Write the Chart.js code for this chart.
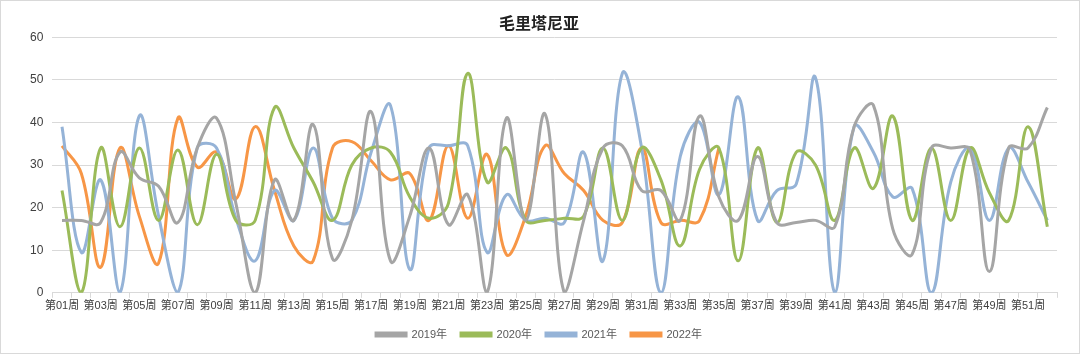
<!DOCTYPE html>
<html>
<head>
<meta charset="utf-8">
<script src="https://cdn.jsdelivr.net/npm/chart.js@4"></script>
<style>
  html, body { margin: 0; padding: 0; background: #fff; }
  #wrap { width: 1080px; height: 354px; box-sizing: border-box; border: 1px solid #d9d9d9; }
  #chart { display: block; }
</style>
</head>
<body>
<div id="wrap"><canvas id="chart" width="1078" height="352"></canvas></div>
<script>
// weeks 第01周 .. 第52周
var weeks = [];
for (var w = 1; w <= 52; w++) weeks.push('第' + (w < 10 ? '0' + w : w) + '周');

var y2019 = [17, 17, 16.5, 33, 27, 25, 16.5, 34, 41, 21, 0, 26.5, 17, 39.5, 8, 17, 42.5, 7.5, 18, 34,
             16, 23, 0, 41, 17, 42, 0, 17, 34, 34.5, 24, 24, 17, 41.5, 22.5, 17, 32, 16.5, 16.5, 17,
             15.5, 39, 44, 15, 9, 34, 34, 33.5, 5, 34, 34, 43.5];
var y2020 = [24, 0, 34, 15.5, 34, 17, 33.5, 16, 32.5, 17, 17, 43.5, 34, 26, 17, 30, 34, 33, 22.5, 17.5,
             21, 51.5, 26, 34, 17, 17, 17.5, 18, 34, 17, 34, 26.5, 11, 29, 34, 7.5, 34, 16.5, 33, 30,
             17, 34, 24.5, 41.5, 17, 34, 17, 34, 23.5, 17, 39, 15.5];
var y2021 = [39, 9.5, 26.5, 0, 41.5, 18, 0, 34, 34, 17.5, 7.5, 24, 17, 34, 17.5, 17, 33, 44, 5.5, 34,
             34.5, 34.5, 9.5, 23, 17, 17.5, 16.5, 33, 7.5, 51.5, 34, 0, 32, 40, 23, 46, 17, 24, 25.5, 50.5,
             0, 39, 33, 22.5, 24.5, 0, 26, 34, 17, 34, 26, 17];
var y2022 = [34.5, 28, 6, 34, 18, 7, 41, 29.5, 33, 22, 39, 24, 11, 7.5, 34, 35.5, 31, 26.5, 28, 17,
             34.5, 17.5, 32.5, 9, 18, 34.5, 28, 24, 17, 16.5, 34, 16.5, 17, 17, 34];

var seriesNames = ['2019年', '2020年', '2021年', '2022年'];
var seriesColors = ['#a5a5a5', '#9bbb59', '#95b3d7', '#f79646'];
var seriesData = [y2019, y2020, y2021, y2022];
var yTicks = [0, 10, 20, 30, 40, 50, 60];

var fontFam = "'Liberation Sans', 'Noto Sans CJK SC', sans-serif";

var ctx = document.getElementById('chart').getContext('2d');
var myLineChart = new Chart(ctx, {
  type: 'line',
  data: {
    labels: weeks,
    datasets: seriesData.map(function (d, i) {
      return {
        label: seriesNames[i],
        data: d,
        borderColor: seriesColors[i],
        backgroundColor: seriesColors[i],
        borderWidth: 3,
        pointRadius: 0,
        tension: 0.4,
        fill: false
      };
    })
  },
  options: {
    responsive: false,
    animation: false,
    layout: { padding: { left: 20, right: 22, top: 4, bottom: 3 } },
    plugins: {
      title: {
        display: true,
        text: '毛里塔尼亚',
        color: '#222',
        font: { family: fontFam, size: 16, weight: 'bold' },
        padding: { top: 10, bottom: 3 }
      },
      legend: {
        position: 'bottom',
        labels: {
          boxWidth: 30,
          boxHeight: 3,
          padding: 14,
          color: '#595959',
          font: { family: fontFam, size: 11 }
        }
      },
      tooltip: { enabled: false }
    },
    scales: {
      x: {
        offset: true,
        grid: { offset: true, drawOnChartArea: false, drawTicks: true, tickLength: 5, color: '#d9d9d9' },
        border: { display: true, color: '#d9d9d9' },
        ticks: {
          autoSkip: false,
          maxRotation: 0,
          minRotation: 0,
          padding: 2,
          color: '#404040',
          font: { family: fontFam, size: 11 },
          callback: function (v, i) { return i % 2 === 0 ? weeks[i] : ''; }
        }
      },
      y: {
        min: 0,
        max: 60,
        afterBuildTicks: function (axis) { axis.ticks = yTicks.map(function (t) { return { value: t }; }); },
        grid: { color: '#d9d9d9', drawTicks: false },
        border: { display: false },
        ticks: {
          padding: 9,
          color: '#404040',
          font: { family: fontFam, size: 12 }
        }
      }
    }
  }
});
</script>
</body>
</html>
